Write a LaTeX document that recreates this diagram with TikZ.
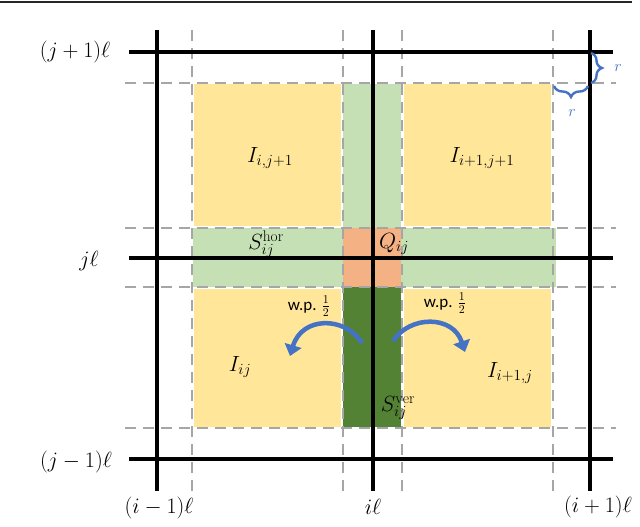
\RequirePackage{fix-cm}
\documentclass[tikz,border=0pt]{standalone}
\usepackage{fontspec}
\newfontfamily\carl{Carlito}
\usetikzlibrary{arrows.meta,decorations.pathreplacing}
\definecolor{yel}{HTML}{FFE699}
\definecolor{lgr}{HTML}{C5E0B4}
\definecolor{org}{HTML}{F4B183}
\definecolor{dgr}{HTML}{548235}
\definecolor{blu}{HTML}{4472C4}
\definecolor{dgray}{HTML}{A6A6A6}
\begin{document}
\begin{tikzpicture}[x=1pt,y=-1pt,
  blk/.style={line width=3.4pt,black},
  dsh/.style={dgray,line width=2.8pt,dash pattern=on 11pt off 7pt},
  lab/.style={font=\fontsize{22}{26}\selectfont,inner sep=0pt},
  inl/.style={font=\fontsize{22}{26}\selectfont,inner sep=0pt},
  wp/.style={font=\carl\fontsize{17}{20}\selectfont,inner sep=0pt},
  arr/.style={blu,line width=4.5pt,-{Triangle[length=11pt,width=17pt]}},
  brc/.style={blu,line width=2.4pt,decorate,decoration={brace,amplitude=11pt}},
  rlab/.style={blu,font=\fontsize{16}{18}\selectfont,inner sep=0pt}]
\useasboundingbox (0,0) rectangle (640,527);
% top rule
\coordinate (tl) at (0,2);
\coordinate (tr) at (632,2);
\draw[line width=2.8pt,black!85] (tl) -- (tr);
% fills
\fill[yel] (194,84) rectangle (341,226);
\fill[yel] (404,84) rectangle (551,226);
\fill[yel] (194,289) rectangle (341,427);
\fill[yel] (404,289) rectangle (551,427);
\fill[lgr] (343,84) rectangle (401,228);
\fill[lgr] (193,228) rectangle (343,287);
\fill[lgr] (401,228) rectangle (556,287);
\fill[org] (343,228) rectangle (401,287);
\fill[dgr] (343,287) rectangle (401,427);
% dashed lines
\foreach \x/\n in {192/a,343/b,402/c,553/d}{
  \coordinate (dv\n1) at (\x,30);
  \coordinate (dv\n2) at (\x,492);
  \draw[dsh] (dv\n1) -- (dv\n2);
}
\foreach \y/\n in {83/a,228/b,287/c,428/d}{
  \coordinate (dh\n1) at (125,\y);
  \coordinate (dh\n2) at (616,\y);
  \draw[dsh] (dh\n1) -- (dh\n2);
}
% black grid
\foreach \x/\n in {157/a,373/b,590/c}{
  \coordinate (v\n1) at (\x,30);
  \coordinate (v\n2) at (\x,491);
  \draw[blk] (v\n1) -- (v\n2);
}
\foreach \y/\n in {52/a,258/b,459/c}{
  \coordinate (h\n1) at (129,\y);
  \coordinate (h\n2) at (613,\y);
  \draw[blk] (h\n1) -- (h\n2);
}
% axis labels
\node[lab] (ljp) at (75,52) {$(j+1)\ell$};
\node[lab] (lj) at (89,261) {$j\ell$};
\node[lab] (ljm) at (76,462) {$(j-1)\ell$};
\node[lab] (lim) at (159,508) {$(i-1)\ell$};
\node[lab] (li) at (373,507) {$i\ell$};
\node[lab] (lip) at (598,507) {$(i+1)\ell$};
% region labels
\node[inl] (t1) at (270,158) {$I_{i,j+1}$};
\node[inl] (t2) at (482,158) {$I_{i+1,j+1}$};
\node[inl] (t3) at (266,244) {$S_{ij}^{\mathrm{hor}}$};
\node[inl] (t4) at (394,244) {$Q_{ij}$};
\node[inl] (t5) at (240,367) {$I_{ij}$};
\node[inl] (t6) at (510,373) {$I_{i+1,j}$};
\node[inl] (t7) at (398,408) {$S_{ij}^{\mathrm{ver}}$};
% w.p. labels
\node[wp] (w1) at (309,306) {w.p. $\frac{1}{2}$};
\node[wp] (w2) at (445,303) {w.p. $\frac{1}{2}$};
% arrows
\coordinate (a1s) at (362,343);
\coordinate (a1e) at (290,356);
\coordinate (a2s) at (393,341);
\coordinate (a2e) at (465,352);
\draw[arr] (a1s) .. controls (345,316) and (302,316) .. (a1e);
\draw[arr] (a2s) .. controls (410,315) and (453,315) .. (a2e);
% braces
\coordinate (b1a) at (591,53);
\coordinate (b1b) at (591,83);
\draw[brc] (b1a) -- (b1b);
\coordinate (b2a) at (588,86);
\coordinate (b2b) at (554,86);
\draw[brc] (b2a) -- (b2b);
\node[rlab] (r1) at (618,68) {$r$};
\node[rlab] (r2) at (572,113) {$r$};
\end{tikzpicture}
\end{document}
